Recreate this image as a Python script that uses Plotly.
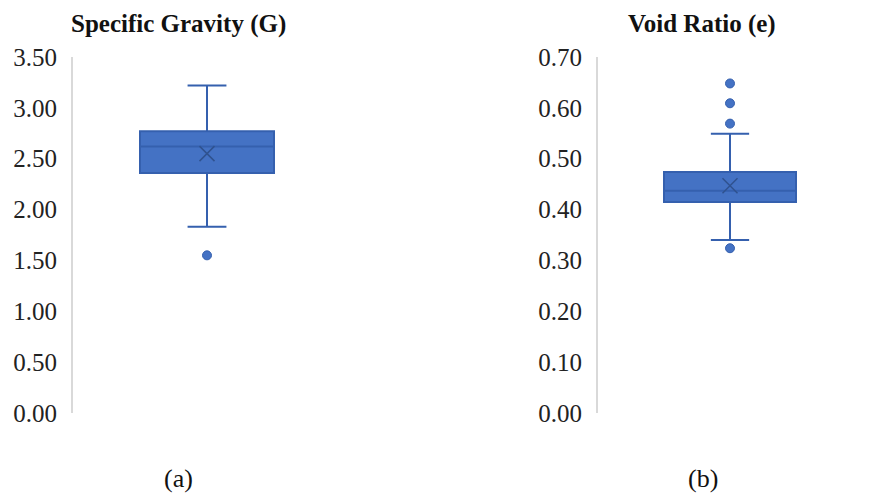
import plotly.graph_objects as go

# ---- data ----
titles = ["Specific Gravity (G)", "Void Ratio (e)"]
panel_labels = ["(a)", "(b)"]
q1_vals = [2.36, 0.415]
median_vals = [2.62, 0.437]
q3_vals = [2.77, 0.474]
lower_fence = [1.83, 0.340]
upper_fence = [3.22, 0.549]
mean_vals = [2.55, 0.447]
outliers_g = [1.55]
outliers_e = [0.648, 0.609, 0.569, 0.324]
y_ticks_g = [0.0, 0.5, 1.0, 1.5, 2.0, 2.5, 3.0, 3.5]
y_ticks_e = [0.0, 0.1, 0.2, 0.3, 0.4, 0.5, 0.6, 0.7]

W, H = 870, 493
OFF = 8  # page body margin
FILL = "#4472C4"
EDGE = "#3560AE"
DARK = "#2F528F"
FONT = "Liberation Serif"


def px_x(p):
    return (p - OFF) / W


def px_y(p):
    return 1 - (p - OFF) / H


fig = go.Figure()
outliers = [outliers_g, outliers_e]
for i in range(2):
    xa = "x" if i == 0 else "x2"
    ya = "y" if i == 0 else "y2"
    fig.add_trace(go.Box(
        x=[0], q1=[q1_vals[i]], median=[median_vals[i]], q3=[q3_vals[i]],
        lowerfence=[lower_fence[i]], upperfence=[upper_fence[i]],
        width=1.0, whiskerwidth=0.29, fillcolor=FILL,
        line=dict(color=EDGE, width=2), boxpoints=False,
        xaxis=xa, yaxis=ya, showlegend=False, hoverinfo="skip"))
    fig.add_trace(go.Scatter(
        x=[0], y=[mean_vals[i]], mode="markers",
        marker=dict(symbol="x-thin-open", size=15, color=DARK,
                    line=dict(color=DARK, width=1.5)),
        xaxis=xa, yaxis=ya, showlegend=False, hoverinfo="skip"))
    fig.add_trace(go.Scatter(
        x=[0] * len(outliers[i]), y=outliers[i], mode="markers",
        marker=dict(symbol="circle", size=9, color=FILL, line=dict(color=EDGE, width=1)),
        xaxis=xa, yaxis=ya, showlegend=False, hoverinfo="skip"))

ydom = [px_y(413), px_y(57)]
common_x = dict(range=[-1, 1], showgrid=False, zeroline=False, showticklabels=False,
                showline=False, fixedrange=True, automargin=False)
tick_font = dict(size=25, family=FONT, color="#222222")
fig.update_layout(
    width=W, height=H, margin=dict(l=0, r=0, t=0, b=0, pad=0),
    paper_bgcolor="white", plot_bgcolor="white",
    font=dict(family=FONT, color="#222222"),
    xaxis=dict(domain=[px_x(73), px_x(341)], **common_x),
    xaxis2=dict(domain=[px_x(598), px_x(862)], anchor="y2", **common_x),
    yaxis=dict(domain=ydom, range=[0, 3.5], tickvals=y_ticks_g,
               ticktext=[f"{v:.2f}" for v in y_ticks_g],
               showgrid=False, zeroline=False, showline=True, automargin=False,
               linecolor="#D9D9D9", linewidth=2, ticks="",
               ticklabelstandoff=9, tickfont=tick_font),
    yaxis2=dict(domain=ydom, range=[0, 0.7], anchor="x2", tickvals=y_ticks_e,
                ticktext=[f"{v:.2f}" for v in y_ticks_e],
                showgrid=False, zeroline=False, showline=True, automargin=False,
                linecolor="#D9D9D9", linewidth=2, ticks="",
                ticklabelstandoff=9, tickfont=tick_font),
)

title_x = [178, 702]
label_x = [178, 703]
for i in range(2):
    fig.add_annotation(text=f"<b>{titles[i]}</b>", x=px_x(title_x[i]), y=px_y(8.5),
                       xref="paper", yref="paper", showarrow=False,
                       xanchor="center", yanchor="top", borderpad=0,
                       font=dict(size=25, family=FONT, color="#111111"))
    fig.add_annotation(text=panel_labels[i], x=px_x(label_x[i]), y=px_y(478),
                       xref="paper", yref="paper", showarrow=False,
                       xanchor="center", yanchor="middle",
                       font=dict(size=26, family=FONT, color="#111111"))

fig.write_html("out.html")
